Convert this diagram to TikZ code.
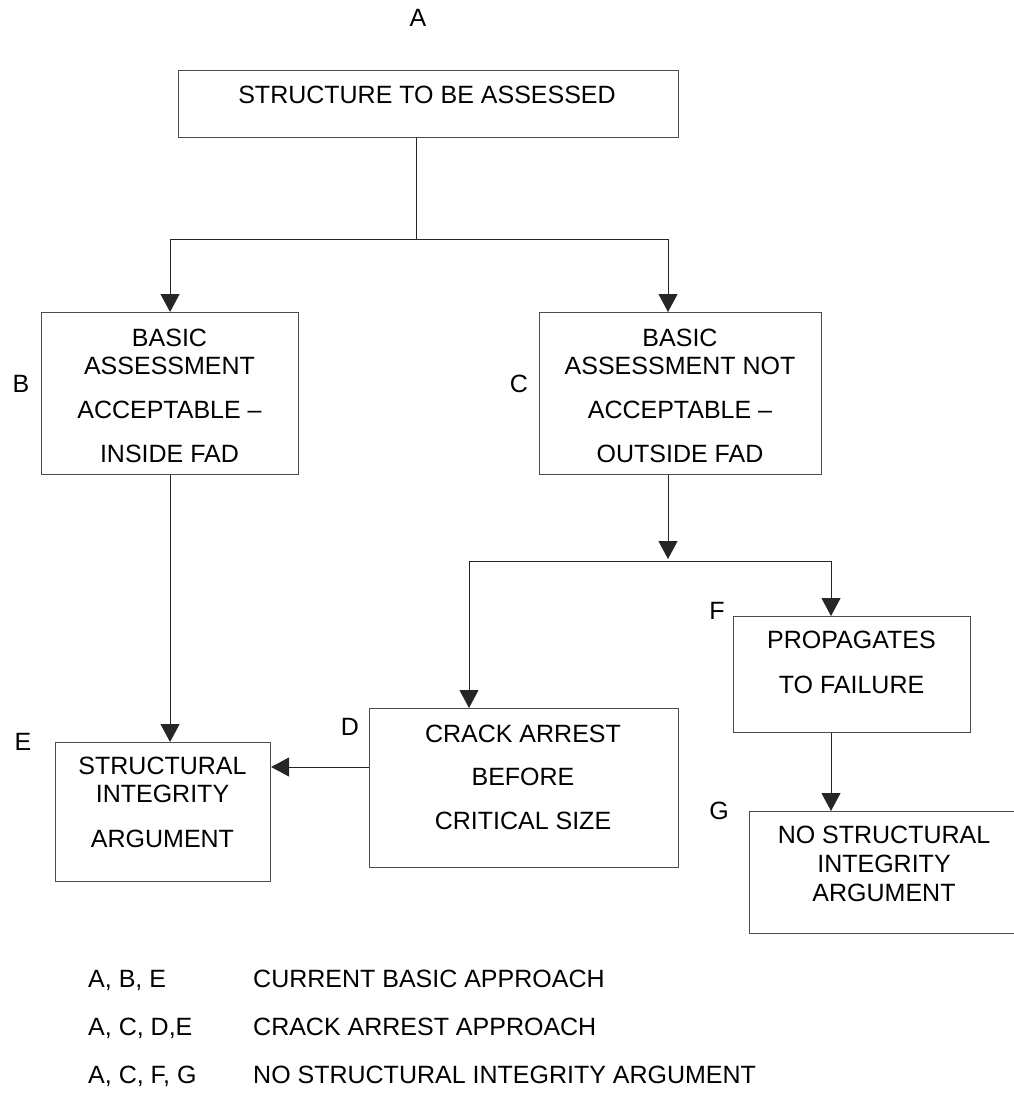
\documentclass[tikz,border=0pt]{standalone}
\usepackage{fontspec}
\setmainfont{Liberation Sans}
\usetikzlibrary{arrows.meta,calc}
\begin{document}
\begin{tikzpicture}[x=1pt,y=-1pt,
  box/.style={draw=black!70, line width=1.1pt, rectangle, inner sep=0pt, anchor=north west},
  txt/.style={font=\fontsize{25}{28}\selectfont, inner sep=0pt, align=center, anchor=base},
  lgd/.style={font=\fontsize{25}{28}\selectfont, inner sep=0pt, anchor=base west},
  lbl/.style={font=\fontsize{25}{28}\selectfont, inner sep=0pt, anchor=center},
  conn/.style={draw=black!85, line width=1pt},
  arr/.style={conn, -{Triangle[length=18pt,width=19pt]}}]
\useasboundingbox (0,0) rectangle (1013,1093);

% boxes
\node[box, minimum width=500pt, minimum height=67pt]  (A) at (178,70) {};
\node[box, minimum width=257pt, minimum height=162pt] (B) at (41,312) {};
\node[box, minimum width=282pt, minimum height=162pt] (C) at (539,312) {};
\node[box, minimum width=309pt, minimum height=159pt] (D) at (369,708) {};
\node[box, minimum width=215pt, minimum height=139pt] (E) at (55,742) {};
\node[box, minimum width=237pt, minimum height=116pt] (F) at (733,616) {};
\node[box, minimum width=275pt, minimum height=122pt] (G) at (749,811) {};

% box texts (base anchor = baseline of the last line)
\node[txt] (At) at (427,103) {STRUCTURE TO BE ASSESSED};
\node[txt] (Bt) at (169.5,462) {BASIC\\ASSESSMENT\\[16pt]ACCEPTABLE –\\[16pt]INSIDE FAD};
\node[txt] (Ct) at (680,462) {BASIC\\ASSESSMENT NOT\\[16pt]ACCEPTABLE –\\[16pt]OUTSIDE FAD};
\node[txt] (Dt) at (523,829) {CRACK ARREST\\[15pt]BEFORE\\[16pt]CRITICAL SIZE};
\node[txt] (Et) at (162.5,847) {STRUCTURAL\\INTEGRITY\\[17pt]ARGUMENT};
\node[txt] (Ft) at (851.5,693) {PROPAGATES\\[17pt]TO FAILURE};
\node[txt] (Gt) at (884,901) {NO STRUCTURAL\\[1pt]INTEGRITY\\[1pt]ARGUMENT};

% letter labels
\node[lbl] (la) at (418,18) {A};
\node[lbl] (lb) at (21,384) {B};
\node[lbl] (lc) at (519,384) {C};
\node[lbl] (ld) at (350,727) {D};
\node[lbl] (le) at (23,742) {E};
\node[lbl] (lf) at (717,611) {F};
\node[lbl] (lg) at (719,811) {G};

% connectors
\coordinate (j1) at (416,239);
\draw[conn] (A.south -| j1) -- (j1);
\draw[arr] (j1) -| (B.north);
\draw[arr] (j1) -| ([xshift=129pt]C.north west);
\draw[arr] (B.south) -- (B.south |- E.north);
\coordinate (j2) at (668,559);
\draw[arr] ([xshift=129pt]C.south west) -- (j2);
\coordinate (j2l) at (469,561);
\coordinate (j2r) at (831,561);
\draw[conn] (j2l) -- (j2r);
\draw[arr] (j2l) -- (j2l |- D.north);
\draw[arr] (j2r) -- (j2r |- F.north);
\draw[arr] (F.south -| j2r) -- (j2r |- G.north);
\draw[arr] ([yshift=-59pt]D.north west) -- ([yshift=-59pt]D.north west -| E.east);

% legend
\node[lgd] (l1a) at (88,987) {A, B, E};
\node[lgd] (l1b) at (253,987) {CURRENT BASIC APPROACH};
\node[lgd] (l2a) at (88,1035) {A, C, D,E};
\node[lgd] (l2b) at (253,1035) {CRACK ARREST APPROACH};
\node[lgd] (l3a) at (88,1083) {A, C, F, G};
\node[lgd] (l3b) at (253,1083) {NO STRUCTURAL INTEGRITY ARGUMENT};
\end{tikzpicture}
\end{document}
